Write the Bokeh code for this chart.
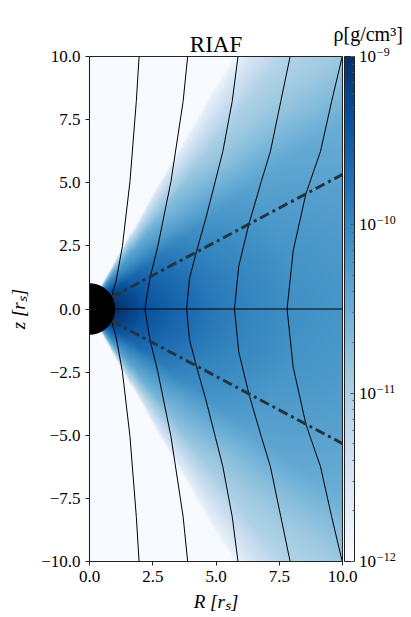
import numpy as np
from bokeh.plotting import figure
from bokeh.models import (Range1d, FixedTicker, CustomJSTickFormatter, LogColorMapper, ColorBar)
from bokeh.core.properties import value
from bokeh.palettes import Blues256
from bokeh.embed import file_html
from bokeh.resources import INLINE

# ---------------- data ----------------
# density model: log10(rho) along the midplane vs spherical radius r [r_S]
mid_r = [1.0, 1.5, 2.0, 3.0, 4.0, 5.0, 6.0, 7.0, 8.0, 10.0, 12.0, 15.0]
mid_logrho = [-9.0, -9.15, -9.36, -9.54, -9.69, -9.84, -9.93, -10.02, -10.10, -10.17, -10.25, -10.33]
# offset of log10(rho) vs angle above the equator [deg]
ang_deg = [0, 15, 27, 37, 45, 53, 57, 60, 61, 62, 63, 64, 90]
ang_dlog = [0.0, -0.05, -0.13, -0.24, -0.55, -0.85, -1.2, -1.6, -2.0, -2.6, -3.2, -4.0, -4.0]

# magnetic field lines (upper half; lower half is the mirror image)
fl_z = [
    [0.0, 0.7, 1.1, 2.48, 5.05, 8.22, 10.0],
    [0.0, 1.22, 2.48, 5.05, 8.22, 10.0],
    [0.0, 1.2, 2.28, 3.6, 5.05, 6.24, 8.22, 10.0],
    [0.0, 1.7, 3.36, 5.05, 6.24, 8.22, 10.0],
    [0.0, 2.3, 4.55, 5.4, 6.24, 8.22, 10.0],
]
fl_R = [
    [0.85, 0.93, 1.05, 1.30, 1.60, 1.85, 1.96],
    [2.19, 2.39, 2.70, 3.22, 3.70, 3.88],
    [3.84, 3.95, 4.23, 4.60, 4.97, 5.27, 5.64, 5.87],
    [5.73, 5.90, 6.30, 6.79, 7.15, 7.56, 7.93],
    [7.81, 8.05, 8.55, 8.84, 9.13, 9.57, 9.99],
]
# equator line and dash-dot cone lines
eq_R = [1.0, 10.0]
eq_z = [0.0, 0.0]
cone_R = [0.88, 10.0]
cone_z = [0.47, 5.33]
horizon_radius = 1.0

R_min, R_max = 0.0, 10.0
z_min, z_max = -10.0, 10.0
x_ticks = [0, 2.5, 5, 7.5, 10]
y_ticks = [-10, -7.5, -5, -2.5, 0, 2.5, 5, 7.5, 10]
cb_ticks = [1e-12, 1e-11, 1e-10, 1e-9]
cb_low, cb_high = 1e-12, 1e-9
title_text = "RIAF"
cb_title = "ρ[g/cm³]"
x_label = "R [rₛ]"
y_label = "z [rₛ]"

FONT = "Liberation Serif"

# ---------------- layout (pixels) ----------------
PX = 25.3                       # pixels per r_S horizontally
zpx = 505.0 / (z_max - z_min)   # pixels per r_S vertically
LEFT_PAD = 89                   # frame room left of the data box
TOP_PAD, BOT_PAD = 51, 50       # frame room above / below the data box
FW = 411
FH = 505 + TOP_PAD + BOT_PAD
x_lo = R_min - LEFT_PAD / PX
x_hi = x_lo + FW / PX
y_lo = z_min - BOT_PAD / zpx
y_hi = z_max + TOP_PAD / zpx

# ---------------- density image ----------------
nx, ny = 250, 500
xs = R_min + (np.arange(nx) + 0.5) * (R_max - R_min) / nx
zs = z_min + (np.arange(ny) + 0.5) * (z_max - z_min) / ny
X, Z = np.meshgrid(xs, zs)
r = np.sqrt(X**2 + Z**2)
th = np.degrees(np.arctan2(np.abs(Z), X))
logrho = np.interp(r, mid_r, mid_logrho) + np.interp(th, ang_deg, ang_dlog)
img = 10.0 ** logrho

palette = list(Blues256)
if palette[0].lower() != "#f7fbff":
    palette = palette[::-1]
mapper = LogColorMapper(palette=palette, low=cb_low, high=cb_high)

p = figure(frame_width=FW, frame_height=FH, x_range=Range1d(x_lo, x_hi), y_range=Range1d(y_lo, y_hi),
           output_backend="svg", toolbar_location=None,
           min_border_left=0, min_border_right=0, min_border_top=5, min_border_bottom=0)
p.outline_line_color = None
p.grid.visible = False

p.image(image=[img], x=R_min, y=z_min, dw=R_max - R_min, dh=z_max - z_min, color_mapper=mapper)

for zu, Ru in zip(fl_z, fl_R):
    zz = [-v for v in zu[::-1]] + zu[1:]
    RR = Ru[::-1] + Ru[1:]
    p.line(RR, zz, line_color="black", line_width=1)

p.line(eq_R, eq_z, line_color="black", line_width=1.2)
p.line(cone_R, cone_z, line_color="#223442", line_width=3, line_dash="10 4 3 4")
p.line(cone_R, [-v for v in cone_z], line_color="#223442", line_width=3, line_dash="10 4 3 4")
# black hole: the half disc inside the data box
p.wedge(x=[0], y=[0], radius=horizon_radius, start_angle=-np.pi / 2, end_angle=np.pi / 2,
        fill_color="black", line_color="black")

# plot box (spines)
p.quad(left=[R_min], right=[R_max], bottom=[z_min], top=[z_max], fill_color=None,
       line_color="#222222", line_width=1.1)

fmt = CustomJSTickFormatter(code="""
const s = Math.abs(tick).toFixed(1);
return (tick < 0 ? '\u2212' : '') + s;
""")
for ax, tk in ((p.xaxis[0], x_ticks), (p.yaxis[0], y_ticks)):
    ax.ticker = FixedTicker(ticks=tk)
    ax.formatter = fmt
    ax.major_label_text_font = FONT
    ax.major_label_text_font_size = "17px"
    ax.major_label_text_color = "black"
    ax.major_tick_out = 4
    ax.major_tick_in = 0
    ax.minor_tick_line_color = None
    ax.axis_line_color = None
    ax.major_tick_line_color = "#222222"
    ax.major_label_standoff = 5
p.xaxis.fixed_location = z_min
p.yaxis.fixed_location = R_min

# axis labels
p.text(x=[(R_min + R_max) / 2], y=[z_min - 40.0 / zpx], text=[x_label], text_font=value(FONT),
       text_font_size="19px", text_font_style="italic", text_baseline="middle",
       text_align="center", text_color="black")
p.text(x=[R_min - (LEFT_PAD - 18.0) / PX], y=[(z_min + z_max) / 2], text=[y_label],
       angle=np.pi / 2, text_font=value(FONT), text_font_size="19px", text_font_style="italic",
       text_baseline="middle", text_align="center", text_color="black")

# colour bar (inside the extended frame, right of the data box)
minor = []
for d in cb_ticks[:-1]:
    minor += [k * d for k in range(2, 10)]
cb = ColorBar(color_mapper=mapper, width=10, height=505, padding=0, margin=0,
              location=(LEFT_PAD + int(round((R_max - R_min) * PX)) + 2, BOT_PAD),
              ticker=FixedTicker(ticks=cb_ticks, minor_ticks=minor),
              major_label_text_alpha=0, major_label_text_font_size="8px", label_standoff=1,
              major_tick_in=4, major_tick_out=0, minor_tick_in=2, minor_tick_out=0,
              major_tick_line_color="#555555", minor_tick_line_color="#555555",
              bar_line_color="#222222", background_fill_alpha=0, border_line_color=None)
p.add_layout(cb)

# colour bar tick labels: "10" with a raised exponent
lo_e, hi_e = np.log10(cb_low), np.log10(cb_high)
cb_z = [float(z_min + (z_max - z_min) * (np.log10(t) - lo_e) / (hi_e - lo_e)) for t in cb_ticks]
cb_exp = ["\u2212" + str(abs(int(round(np.log10(t))))) for t in cb_ticks]
lab_x = R_max + 16.5 / PX
p.text(x=[lab_x] * len(cb_z), y=cb_z, text=["10"] * len(cb_z), text_font=value(FONT),
       text_font_size="17px", text_baseline="middle", text_align="left", text_color="black")
p.text(x=[lab_x + 18.0 / PX] * len(cb_z), y=[z + 4.5 / zpx for z in cb_z], text=cb_exp,
       text_font=value(FONT), text_font_size="12px", text_baseline="middle",
       text_align="left", text_color="black")

# titles
p.text(x=[R_max - 9.0 / PX], y=[z_max + 23.0 / zpx], text=[cb_title], text_font=value(FONT),
       text_font_size="20px", text_baseline="middle", text_align="left", text_color="black")
p.text(x=[(R_min + R_max) / 2], y=[z_max + 12.0 / zpx], text=[title_text], text_font=value(FONT),
       text_font_size="23px", text_baseline="middle", text_align="center", text_color="black")

open("out.html", "w").write(file_html(p, INLINE))
